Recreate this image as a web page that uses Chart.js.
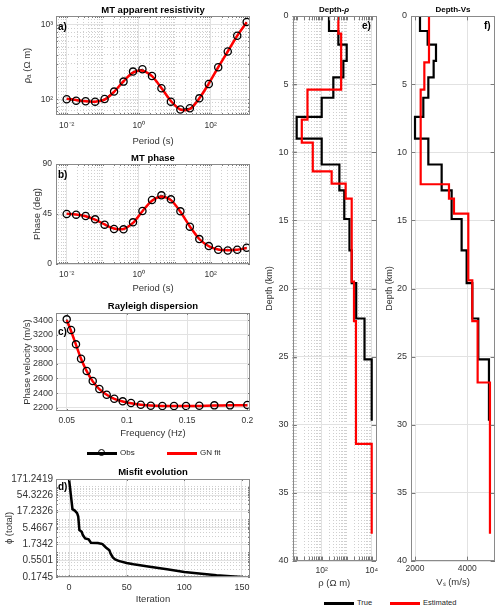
<!DOCTYPE html>
<html>
<head>
<meta charset="utf-8">
<script src="https://cdn.jsdelivr.net/npm/chart.js@4.4.0/dist/chart.umd.min.js"></script>
<style>
  body { margin: 0; background: #fff; }
  #fig { position: relative; width: 500px; height: 611px; font-family: "Liberation Sans", Arial, sans-serif; overflow: hidden; }
  #fig canvas { position: absolute; }
  .ttl { position: absolute; font-weight: bold; font-size: 9.5px; line-height: 12px; color: #000; transform: translateX(-50%); white-space: nowrap; }
  .ttl.small { font-size: 8px; }
  .lab { position: absolute; font-weight: bold; font-size: 10px; line-height: 12px; color: #000; }
  .lg { position: absolute; height: 2.5px; }
  .lgt { position: absolute; font-size: 8px; line-height: 10px; color: #262626; white-space: nowrap; }
  .mk { position: absolute; width: 5px; height: 5px; border: 1.3px solid #000; border-radius: 50%; }
</style>
</head>
<body>
<div id="fig">
  <canvas id="ca"></canvas>
  <canvas id="cb"></canvas>
  <canvas id="cc"></canvas>
  <canvas id="cd"></canvas>
  <canvas id="ce"></canvas>
  <canvas id="cf"></canvas>

  <div class="ttl" style="left:153px;top:4px">MT apparent resistivity</div>
  <div class="ttl" style="left:153px;top:152px">MT phase</div>
  <div class="ttl" style="left:153px;top:300px">Rayleigh dispersion</div>
  <div class="ttl" style="left:153px;top:466px">Misfit evolution</div>
  <div class="ttl small" style="left:334px;top:4px">Depth-<i>ρ</i></div>
  <div class="ttl small" style="left:453px;top:4px">Depth-Vs</div>

  <div class="lab" style="left:58px;top:21px">a)</div>
  <div class="lab" style="left:58px;top:169px">b)</div>
  <div class="lab" style="left:58px;top:326px">c)</div>
  <div class="lab" style="left:58px;top:481px">d)</div>
  <div class="lab" style="left:362px;top:20px">e)</div>
  <div class="lab" style="left:484px;top:20px">f)</div>

  <div class="lg" style="left:87px;top:452px;width:30px;background:#000"></div>
  <div class="mk" style="left:98px;top:449px"></div>
  <div class="lgt" style="left:120px;top:448px">Obs</div>
  <div class="lg" style="left:167px;top:452px;width:30px;background:#f00"></div>
  <div class="lgt" style="left:200px;top:448px">GN fit</div>

  <div class="lg" style="left:324px;top:602px;width:30px;background:#000"></div>
  <div class="lgt" style="left:357px;top:598px;font-size:7.5px">True</div>
  <div class="lg" style="left:390px;top:602px;width:30px;background:#f00"></div>
  <div class="lgt" style="left:423px;top:598px;font-size:7.5px">Estimated</div>
</div>

<script>
// ---- data ----
const periods = [0.01, 0.0183, 0.0336, 0.0616, 0.113, 0.207, 0.379, 0.695, 1.27, 2.34,
                 4.28, 7.85, 14.4, 26.4, 48.3, 88.6, 162, 298, 546, 1000];
const rhoObs = [100, 96, 94, 93, 101, 127, 173, 236, 254, 206, 141, 93, 73, 76, 103, 161, 270, 440, 716, 1100];
const rhoFit = [102, 98, 94, 93, 99, 126, 175, 228, 243, 205, 142, 95, 73, 74, 103, 163, 270, 440, 716, 1090];
const phaseObs = [45, 44.4, 43.2, 40.2, 35.4, 31.5, 31.2, 37.5, 47.7, 57.6, 61.8, 58.2, 47.4, 33.6, 22.4, 16.1, 12.8, 12.2, 12.8, 14.6];
const phaseFit = [45.2, 44.6, 43.0, 40.0, 35.6, 32.0, 31.5, 37.0, 47.5, 57.0, 60.5, 57.5, 47.0, 33.8, 22.5, 16.0, 13.0, 12.4, 12.8, 14.4];

const freqs = [0.05, 0.0536, 0.0577, 0.0619, 0.0666, 0.0716, 0.0771, 0.0832, 0.0895, 0.0965,
               0.1034, 0.1115, 0.1198, 0.1294, 0.1391, 0.1491, 0.1601, 0.1726, 0.1856, 0.2];
const velObs = [3409, 3263, 3067, 2871, 2702, 2565, 2456, 2378, 2323, 2287, 2264, 2241, 2227, 2223, 2223, 2223, 2227, 2232, 2232, 2237];
const velFit = [3400, 3250, 3060, 2870, 2700, 2560, 2455, 2378, 2322, 2285, 2260, 2242, 2230, 2224, 2222, 2222, 2225, 2229, 2232, 2234];

const misfitIter = [0, 3, 5, 7, 8, 9, 11, 12, 14, 17, 19, 25, 29, 32, 35, 36, 38, 40, 43, 50, 56, 70, 85, 100, 115, 128, 140, 150];
const misfitVal = [171.2419, 20.5, 18.6, 15.5, 12.2, 4.74, 4.2, 3.33, 2.64, 2.45, 1.93, 1.9, 1.76, 1.39, 1.15, 0.91,
                   0.69, 0.60, 0.54, 0.47, 0.43, 0.36, 0.30, 0.25, 0.22, 0.197, 0.183, 0.1745];

// layer tops (km); last entry is the bottom of the drawn profile
const trueDepth = [0, 1.1, 2.1, 3.3, 4.5, 6.0, 7.4, 9.0, 10.9, 12.8, 14.9, 17.2, 19.6, 22.2, 25.2, 29.7];
const trueRho = [196, 464, 1000, 735, 292, 100, 10, 100, 510, 800, 1290, 1585, 2400, 5160, 10000, 10000];
const estRhoDepth = [0, 0, 1.3, 5.4, 7.6, 9.3, 11.4, 12.3, 13.4, 19.5, 22.4, 31.4, 38.0];
const estRho = [100, 464, 600, 27, 16, 44, 250, 910, 1585, 1960, 2350, 10000, 10000];

const trueVsDepth = [0, 0, 1.1, 2.1, 3.3, 4.5, 6.0, 7.4, 9.0, 10.9, 12.8, 14.9, 17.2, 19.6, 22.2, 25.2, 29.7];
const trueVs = [2000, 2191, 2484, 2803, 2713, 2510, 2318, 2000, 2510, 3019, 3401, 3783, 3975, 4191, 4420, 4828, 4828];
const estVsDepth = [0, 3.4, 5.4, 12.35, 13.4, 14.5, 19.4, 22.4, 26.9, 38.0];
const estVs = [2535, 2357, 2217, 3299, 3490, 4038, 4191, 4395, 4866, 4866];

// ---- tick labels ----
const periodTicks = [0.01, 1, 100];
const rhoTicks = [100, 1000];
const phaseTicks = [0, 45, 90];
const freqTicks = [0.05, 0.1, 0.15, 0.2];
const velTicks = [2200, 2400, 2600, 2800, 3000, 3200, 3400];
const iterTicks = [0, 50, 100, 150];
const misfitTicks = [0.1745, 0.5501, 1.7342, 5.4667, 17.2326, 54.3226, 171.2419];
const depthTicks = [0, 5, 10, 15, 20, 25, 30, 35, 40];
const rhoModelTicks = [100, 10000];
const vsTicks = [2000, 4000];

const FONT = '"Liberation Sans", Arial, sans-serif';
const TXT = '#333333';
const GRID = '#e2e2e2';
const MINOR = '#cfcfcf';
const SUP = {'-': '⁻', '0': '⁰', '1': '¹', '2': '²', '3': '³', '4': '⁴', '5': '⁵', '6': '⁶', '7': '⁷', '8': '⁸', '9': '⁹'};

function pow10Label(v) {
  const e = Math.round(Math.log10(v));
  return '10' + String(e).split('').map(c => SUP[c]).join('');
}

function isIn(v, list) {
  return list.some(m => Math.abs(v - m) <= Math.abs(m) * 1e-6 + 1e-9);
}

// all 1..9 x 10^k values inside a log range (for the dotted minor grid)
function logMinor(min, max) {
  const out = [];
  for (let k = Math.floor(Math.log10(min)); k <= Math.ceil(Math.log10(max)); k++) {
    for (let m = 1; m < 10; m++) {
      const v = m * Math.pow(10, k);
      if (v >= min && v <= max) out.push(v);
    }
  }
  return out;
}

function pts(xs, ys) {
  return xs.map((x, i) => ({x: x, y: ys[i]}));
}

function makeScale(o) {
  const all = (o.minor || []).filter(v => !isIn(v, o.major)).concat(o.major).sort((a, b) => a - b);
  return {
    type: o.type,
    min: o.min,
    max: o.max,
    reverse: !!o.reverse,
    afterBuildTicks: s => { s.ticks = all.map(v => ({value: v})); },
    afterFit: s => {
      if (o.horizontal) { s.height = o.size; s.paddingLeft = 0; s.paddingRight = 0; }
      else { s.width = o.size; s.paddingTop = 0; s.paddingBottom = 0; }
    },
    ticks: {
      autoSkip: false, maxRotation: 0, minRotation: 0,
      padding: o.tickPad, color: TXT,
      font: {family: FONT, size: o.tickSize || 8.5},
      callback: v => isIn(v, o.major) ? o.fmt(v) : ''
    },
    grid: {
      drawTicks: false, lineWidth: 1,
      color: c => (c.tick && isIn(c.tick.value, o.major)) ? GRID : MINOR
    },
    border: {
      display: false,
      dash: c => (c.tick && !isIn(c.tick.value, o.major)) ? [1, 2] : []
    },
    title: {
      display: true, text: o.title, color: TXT,
      font: {family: FONT, size: o.titleSize || 9.5},
      padding: o.horizontal ? {top: 0, bottom: o.titlePad} : {top: o.titlePad, bottom: 0}
    }
  };
}

// box around each axes with inward ticks, like MATLAB "box on"
const boxPlugin = {
  id: 'box',
  afterDraw(chart) {
    const {ctx, chartArea: a, scales} = chart;
    const len = Math.max(2, 0.008 * Math.max(a.right - a.left, a.bottom - a.top));
    ctx.save();
    ctx.strokeStyle = '#7a7a7a';
    ctx.lineWidth = 1;
    ctx.beginPath();
    scales.x.ticks.forEach(t => {
      const px = Math.round(scales.x.getPixelForValue(t.value)) + 0.5;
      ctx.moveTo(px, a.bottom); ctx.lineTo(px, a.bottom - len);
      ctx.moveTo(px, a.top); ctx.lineTo(px, a.top + len);
    });
    scales.y.ticks.forEach(t => {
      const py = Math.round(scales.y.getPixelForValue(t.value)) + 0.5;
      ctx.moveTo(a.left, py); ctx.lineTo(a.left + len, py);
      ctx.moveTo(a.right, py); ctx.lineTo(a.right - len, py);
    });
    ctx.stroke();
    ctx.strokeStyle = '#8a8a8a';
    ctx.strokeRect(Math.round(a.left) + 0.5, Math.round(a.top) + 0.5,
                   Math.round(a.right - a.left) - 1, Math.round(a.bottom - a.top) - 1);
    ctx.restore();
  }
};

function panel(id, rect, area, datasets, xs, ys) {
  const cv = document.getElementById(id);
  cv.width = rect.r - rect.l;
  cv.height = rect.b - rect.t;
  cv.style.left = rect.l + 'px';
  cv.style.top = rect.t + 'px';
  xs.horizontal = true;
  xs.size = rect.b - area.b;
  ys.size = area.l - rect.l;
  return new Chart(cv, {
    type: 'line',
    data: {datasets: datasets},
    options: {
      responsive: false,
      animation: false,
      devicePixelRatio: 1,
      events: [],
      layout: {autoPadding: false, padding: {left: 0, top: area.t - rect.t, right: rect.r - area.r, bottom: 0}},
      plugins: {legend: {display: false}, tooltip: {enabled: false}},
      scales: {x: makeScale(xs), y: makeScale(ys)}
    },
    plugins: [boxPlugin]
  });
}

function obsLine(data) {
  return {data: data, borderColor: '#000', borderWidth: 1, pointRadius: 0, order: 3};
}
function obsMarks(data) {
  return {data: data, showLine: false, pointRadius: 3.6, pointBorderWidth: 1.3,
          pointBorderColor: '#000', pointBackgroundColor: 'rgba(0,0,0,0)', order: 0};
}
function fitLine(data) {
  return {data: data, borderColor: '#ff0000', borderWidth: 2.5, pointRadius: 0, tension: 0.3, order: 1};
}

const periodScale = {
  type: 'logarithmic', min: Math.pow(10, -2.297), max: Math.pow(10, 3.092),
  major: periodTicks, minor: logMinor(Math.pow(10, -2.297), Math.pow(10, 3.092)),
  fmt: pow10Label, title: 'Period (s)', tickPad: 6, titlePad: 2
};

// a) apparent resistivity
panel('ca', {l: 0, t: 8, r: 258, b: 149}, {l: 56, t: 16, r: 250, b: 115},
  [obsLine(pts(periods, rhoObs)), fitLine(pts(periods, rhoFit)), obsMarks(pts(periods, rhoObs))],
  Object.assign({}, periodScale),
  {type: 'logarithmic', min: Math.pow(10, 1.789), max: Math.pow(10, 3.121),
   major: rhoTicks, minor: logMinor(Math.pow(10, 1.789), Math.pow(10, 3.121)),
   fmt: pow10Label, title: 'ρₐ (Ω m)', tickPad: 3, titlePad: 22});

// b) phase
panel('cb', {l: 0, t: 158, r: 258, b: 296}, {l: 56, t: 164, r: 250, b: 264},
  [obsLine(pts(periods, phaseObs)), fitLine(pts(periods, phaseFit)), obsMarks(pts(periods, phaseObs))],
  Object.assign({}, periodScale),
  {type: 'linear', min: 0, max: 90, major: phaseTicks, fmt: v => String(v),
   title: 'Phase (deg)', tickPad: 4, titlePad: 32});

// c) Rayleigh dispersion
panel('cc', {l: 0, t: 306, r: 258, b: 441}, {l: 56, t: 313, r: 250, b: 411},
  [obsLine(pts(freqs, velObs)), fitLine(pts(freqs, velFit)), obsMarks(pts(freqs, velObs))],
  {type: 'linear', min: 0.0411, max: 0.2022, major: freqTicks, fmt: v => String(v),
   title: 'Frequency (Hz)', tickPad: 5, titlePad: 2},
  {type: 'linear', min: 2155, max: 3496, major: velTicks, fmt: v => String(v),
   title: 'Phase velocity (m/s)', tickPad: 3, titlePad: 22, tickSize: 9});

// d) misfit evolution
panel('cd', {l: 0, t: 472, r: 258, b: 608}, {l: 56, t: 479, r: 250, b: 577},
  [{data: pts(misfitIter, misfitVal), borderColor: '#000', borderWidth: 2.5, pointRadius: 0, tension: 0}],
  {type: 'linear', min: -11.3, max: 157, major: iterTicks, fmt: v => String(v),
   title: 'Iteration', tickPad: 5, titlePad: 3, tickSize: 9},
  {type: 'logarithmic', min: 0.1745, max: 171.2419, major: misfitTicks,
   minor: logMinor(0.1745, 171.2419), fmt: v => v.toFixed(4),
   title: 'ϕ (total)', tickPad: 3, titlePad: 4, tickSize: 10});

// e) depth - resistivity
panel('ce', {l: 262, t: 8, r: 380, b: 592}, {l: 292.5, t: 16, r: 376, b: 561},
  [{data: pts(trueRho, trueDepth), borderColor: '#000', borderWidth: 2.2, pointRadius: 0, stepped: 'after', order: 1},
   {data: pts(estRho, estRhoDepth), borderColor: '#ff0000', borderWidth: 2.2, pointRadius: 0, stepped: 'after', order: 0}],
  {type: 'logarithmic', min: 6.8, max: 14860, major: rhoModelTicks, minor: logMinor(6.8, 14860),
   fmt: pow10Label, title: 'ρ (Ω m)', tickPad: 5, titlePad: 3, tickSize: 8.5},
  {type: 'linear', min: 0, max: 40, reverse: true, major: depthTicks, fmt: v => String(v),
   title: 'Depth (km)', tickPad: 4, titlePad: 2, tickSize: 9, titleSize: 9});

// f) depth - Vs
panel('cf', {l: 383, t: 8, r: 499, b: 592}, {l: 411, t: 16, r: 495, b: 561},
  [{data: pts(trueVs, trueVsDepth), borderColor: '#000', borderWidth: 2.2, pointRadius: 0, stepped: 'after', order: 1},
   {data: pts(estVs, estVsDepth), borderColor: '#ff0000', borderWidth: 2.2, pointRadius: 0, stepped: 'after', order: 0}],
  {type: 'linear', min: 1847, max: 5059, major: vsTicks, fmt: v => String(v),
   title: 'Vₛ (m/s)', tickPad: 3, titlePad: 4, tickSize: 8.5},
  {type: 'linear', min: 0, max: 40, reverse: true, major: depthTicks, fmt: v => String(v),
   title: 'Depth (km)', tickPad: 4, titlePad: 1, tickSize: 9, titleSize: 9});
</script>
</body>
</html>
